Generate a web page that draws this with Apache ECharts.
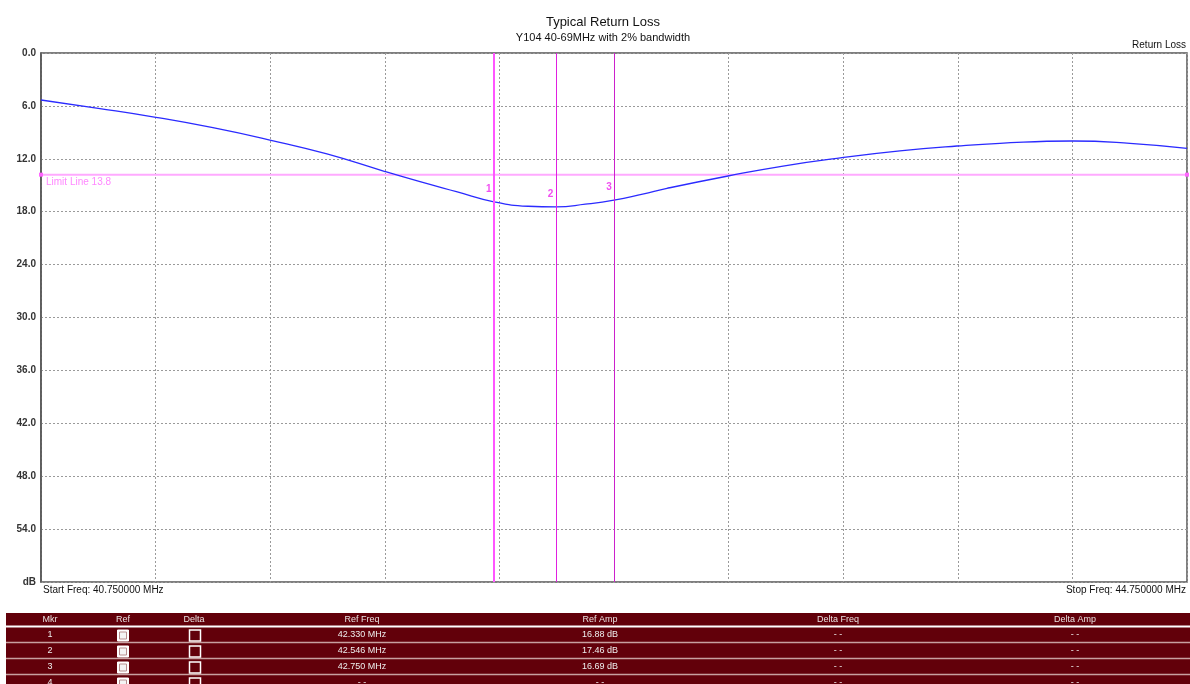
<!DOCTYPE html>
<html>
<head>
<meta charset="utf-8">
<script src="https://cdn.jsdelivr.net/npm/echarts@6/dist/echarts.min.js"></script>
<style>
html,body{margin:0;padding:0;background:#fff;}
#chart{width:1190px;height:684px;}
</style>
</head>
<body>
<div id="chart"></div>
<script>
// ---- data ----
var freqMHz = [40.75, 40.95, 41.151, 41.35, 41.549, 41.748, 41.951, 42.073, 42.2, 42.331, 42.45, 42.548, 42.65, 42.75, 42.85, 42.935, 43.148, 43.34, 43.546, 43.748, 43.947, 44.097, 44.349, 44.551, 44.75];
var returnLossDb = [5.33, 6.27, 7.29, 8.47, 9.87, 11.45, 13.45, 14.6, 15.73, 16.88, 17.38, 17.46, 17.15, 16.69, 16.0, 15.35, 13.95, 12.82, 11.87, 11.11, 10.55, 10.24, 9.98, 10.24, 10.81];
var limitDb = 13.8;
var startFreq = 40.75, stopFreq = 44.75;
var markerIds = ['1', '2', '3', '4'];
var markerFreqs = [42.330, 42.546, 42.750];
var markerAmps = [16.88, 17.46, 16.69];
var yTicks = [0, 6, 12, 18, 24, 30, 36, 42, 48, 54, 60];
var tableHeaders = ['Mkr', 'Ref', 'Delta', 'Ref Freq', 'Ref Amp', 'Delta Freq', 'Delta Amp'];

// ---- layout ----
var G = {left: 41, top: 53, width: 1146, height: 529};
var FONT = '"Liberation Sans", Arial, sans-serif';
var colX = [50, 123, 194, 362, 600, 838, 1075];

var chart = echarts.init(document.getElementById('chart'));

var lineData = freqMHz.map(function (f, i) { return [f, returnLossDb[i]]; });
var markerColors = ['#ff55ff', '#e020e0', '#cc20cc'];
var markerWidths = [2, 1, 1];

var graphics = [
  {type: 'text', right: 4, top: 40, style: {text: 'Return Loss', font: '10px ' + FONT, fill: '#111'}},
  {type: 'text', left: 43, top: 585, style: {text: 'Start Freq: ' + startFreq.toFixed(6) + ' MHz', font: '10px ' + FONT, fill: '#111'}},
  {type: 'text', right: 4, top: 585, style: {text: 'Stop Freq: ' + stopFreq.toFixed(6) + ' MHz', font: '10px ' + FONT, fill: '#111'}},
  {type: 'rect', shape: {x: 6, y: 613, width: 1184, height: 71}, style: {fill: '#62000a'}, z: 1},
  {type: 'line', shape: {x1: 6, y1: 626.5, x2: 1190, y2: 626.5}, style: {stroke: '#ffffff', lineWidth: 2}, z: 2}
];
tableHeaders.forEach(function (h, i) {
  graphics.push({type: 'text', x: colX[i], y: 620, style: {text: h, font: '9px ' + FONT, fill: '#e8e0e0', align: 'center', verticalAlign: 'middle'}, z: 3});
});
[642.5, 658.5, 674.5].forEach(function (y) {
  graphics.push({type: 'line', shape: {x1: 6, y1: y, x2: 1190, y2: y}, style: {stroke: '#c8a0a0', lineWidth: 1.5}, z: 2});
});
markerIds.forEach(function (id, r) {
  var cy = 635 + r * 16;
  var has = r < markerFreqs.length;
  var cells = [id, null, null,
    has ? markerFreqs[r].toFixed(3) + ' MHz' : '- -',
    has ? markerAmps[r].toFixed(2) + ' dB' : '- -',
    '- -', '- -'];
  cells.forEach(function (t, c) {
    if (t === null) return;
    graphics.push({type: 'text', x: colX[c], y: cy, style: {text: t, font: '9px ' + FONT, fill: '#eeeeee', align: 'center', verticalAlign: 'middle'}, z: 3});
  });
  graphics.push({type: 'rect', shape: {x: 117.5, y: cy - 5, width: 11, height: 11}, style: {fill: '#ffffff', stroke: '#ffffff', lineWidth: 1}, z: 3});
  graphics.push({type: 'rect', shape: {x: 119.5, y: cy - 3, width: 7, height: 7}, style: {fill: '#f4f4f4', stroke: '#b89090', lineWidth: 1}, z: 4});
  graphics.push({type: 'rect', shape: {x: 189.5, y: cy - 5, width: 11, height: 11}, style: {fill: 'none', stroke: '#ffffff', lineWidth: 1.5}, z: 3});
});

var option = {
  backgroundColor: '#ffffff',
  animation: false,
  title: {
    text: 'Typical Return Loss',
    subtext: 'Y104 40-69MHz with 2% bandwidth',
    left: 598, textAlign: 'center', top: 11, itemGap: 3,
    textStyle: {fontFamily: FONT, fontSize: 13, fontWeight: 'normal', color: '#111'},
    subtextStyle: {fontFamily: FONT, fontSize: 11, color: '#111'}
  },
  grid: {left: G.left, top: G.top, width: G.width, height: G.height, show: true, borderColor: '#555', borderWidth: 1.5, backgroundColor: 'transparent'},
  xAxis: [
    {type: 'value', min: startFreq, max: stopFreq, axisLine: {show: false}, axisTick: {show: false}, axisLabel: {show: false}, splitLine: {show: false}},
    {type: 'value', min: 0, max: 10, interval: 1, position: 'bottom', axisLine: {show: false}, axisTick: {show: false}, axisLabel: {show: false},
     splitLine: {show: true, lineStyle: {color: '#9a9a9a', type: [2, 2], width: 1}}}
  ],
  yAxis: {
    type: 'value', inverse: true, min: yTicks[0], max: yTicks[yTicks.length - 1], interval: 6,
    axisLine: {show: true, lineStyle: {color: '#555', width: 1.5}},
    axisTick: {show: false},
    axisLabel: {margin: 5, fontFamily: FONT, fontSize: 10, fontWeight: 'bold', color: '#333',
      formatter: function (v) { return v === 60 ? 'dB' : v.toFixed(1); }},
    splitLine: {show: true, lineStyle: {color: '#9a9a9a', type: [2, 2], width: 1}}
  },
  series: [
    {
      name: 'Limit', type: 'line', xAxisIndex: 0, silent: true,
      data: [
        {value: [startFreq, limitDb], label: {show: true, position: 'right', offset: [-2, 8], formatter: 'Limit Line ' + limitDb, fontFamily: FONT, fontSize: 10, color: '#ff88ff'}},
        {value: [stopFreq, limitDb]}
      ],
      symbol: 'rect', symbolSize: 4, showSymbol: true,
      itemStyle: {color: '#ff66ff'},
      lineStyle: {color: '#ffaaff', width: 2},
      z: 2
    },
    {
      name: 'Return Loss', type: 'line', xAxisIndex: 0, data: lineData, smooth: true, symbol: 'none',
      lineStyle: {color: '#2b2bff', width: 1.3},
      z: 4,
      markLine: {
        silent: true, symbol: 'none', animation: false,
        label: {show: false},
        data: markerFreqs.map(function (f, i) {
          return {xAxis: f, lineStyle: {color: markerColors[i], width: markerWidths[i], type: 'solid'}};
        })
      }
    },
    {
      name: 'Markers', type: 'scatter', xAxisIndex: 0, symbolSize: 1, itemStyle: {color: 'rgba(0,0,0,0)'},
      data: markerFreqs.map(function (f, i) { return [f, markerAmps[i], markerIds[i]]; }),
      label: {show: true, position: 'inside', offset: [-5, -13], formatter: function (p) { return p.value[2]; },
        fontFamily: FONT, fontSize: 10, fontWeight: 'bold', color: '#ee22ee'},
      z: 5
    }
  ],
  graphic: graphics
};
chart.setOption(option);
</script>
</body>
</html>
